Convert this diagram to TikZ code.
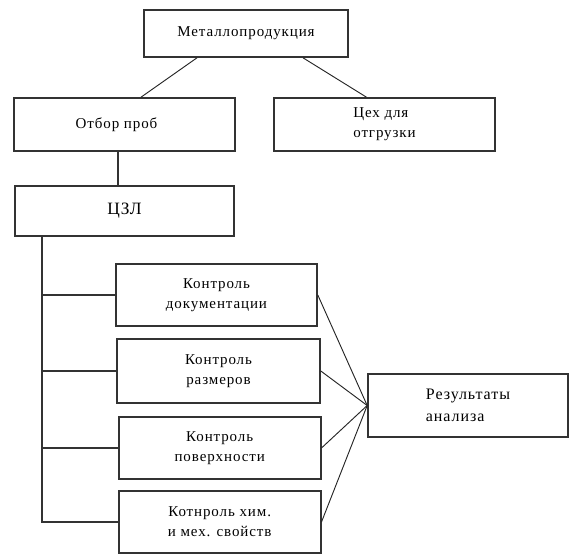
\documentclass[tikz,border=0pt]{standalone}
\usepackage{fontspec}
\setmainfont{Liberation Serif}[LetterSpace=6]
\usetikzlibrary{calc}
\tikzset{
  boxlines/.style={line width=1.2pt, draw=black!80!white},
  blk/.style={boxlines, fill=white, rectangle, inner sep=0pt, align=center, font=\fontsize{11.25}{15}\selectfont},
  sz/.style n args={2}{minimum width=#1*0.75pt, minimum height=#2*0.75pt},
  tie/.style={line width=1.2pt, draw=black!80!white},
  diag/.style={line width=0.7pt, draw=black!85!white},
}

\begin{document}
\begin{tikzpicture}[x=0.75pt, y=-0.75pt]
\useasboundingbox (0,0) rectangle (569,554);
\node[blk, sz={204}{47}] (metal) at (246,33.5) {Металлопродукция};
\node[blk, sz={221}{53}] (otbor) at (124.5,124.5) {Отбор проб\hspace{12pt}};
\node[blk, sz={221}{53}, align=left] (ceh) at (384.5,124.5) {Цех для\\отгрузки};
\node[blk, sz={219}{50}, font=\fontsize{13}{15}\selectfont] (czl) at (124.5,211) {ЦЗЛ};
\node[blk, sz={201}{62}] (k1) at (216.5,295) {Контроль\\документации};
\node[blk, sz={203}{64}] (k2) at (218.5,371) {Контроль\\размеров};
\node[blk, sz={202}{62}] (k3) at (219.7,448) {Контроль\\поверхности};
\node[blk, sz={202}{62}] (k4) at (219.7,522) {Котнроль хим.\\и мех. свойств};
\node[blk, sz={200}{63}, align=left, font=\fontsize{12}{17}\selectfont] (rez) at (468,405.5) {Результаты\\анализа\hspace{18pt}};
\draw[diag] ($(metal.south)+(-49,0)$) -- ($(otbor.north)+(16.5,0)$);
\draw[diag] ($(metal.south)+(57,0)$) -- ($(ceh.north)+(-18,0)$);
\draw[tie] ($(otbor.south)+(-6.5,0)$) -- ($(czl.north)+(-6.5,0)$);
\coordinate (trunk) at ($(czl.south west)+(27.5,0)$);
\draw[tie] (trunk) |- (k4.west);
\foreach \k in {k1,k2,k3}
  \draw[tie] (trunk |- \k.west) -- (\k.west);
\foreach \k in {k1,k2,k3,k4}
  \draw[diag] (\k.east) -- (rez.west);
\end{tikzpicture}
\end{document}
